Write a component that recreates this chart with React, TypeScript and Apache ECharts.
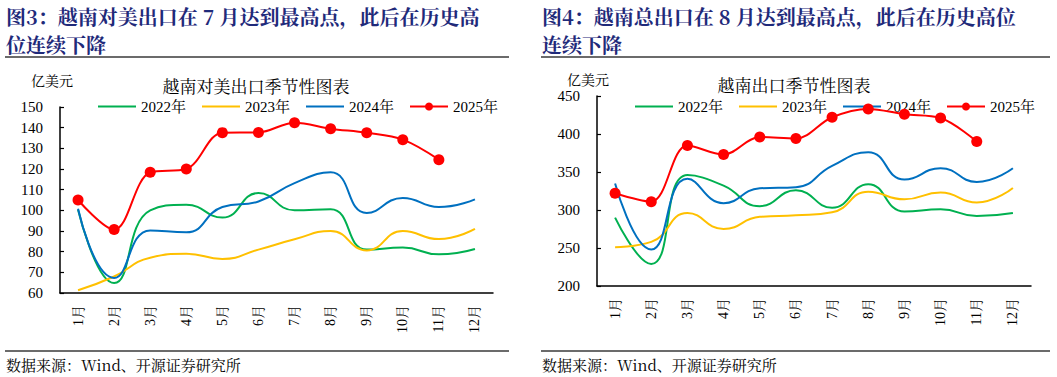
import React, { useEffect, useRef } from "react";
import * as echarts from "echarts";

// Month categories shared by both panels
const months = ["1月", "2月", "3月", "4月", "5月", "6月", "7月", "8月", "9月", "10月", "11月", "12月"];
const yearNames = ["2022年", "2023年", "2024年", "2025年"];

// Vietnam exports to the US (亿美元)
const us2022 = [100.3, 64.8, 100, 102.7, 96.5, 108.4, 100, 100.5, 81, 82, 78.7, 81.3];
const us2023 = [61.3, 68, 77.1, 79, 76.5, 81, 86, 90, 80.6, 90, 86.1, 91];
const us2024 = [100.8, 67.3, 90.3, 89.4, 101.6, 104.3, 113.2, 118.4, 98.7, 106, 101.6, 105.3];
const us2025 = [105, 90.7, 118.4, 120, 137.6, 137.7, 142.4, 139.5, 137.5, 134.2, 124.5];

// Vietnam total exports (亿美元)
const tot2022 = [290, 229, 346, 332, 305, 326, 303, 334, 298, 301, 292, 296];
const tot2023 = [251, 258, 296, 275, 291, 293, 297, 324, 314, 323, 310, 329];
const tot2024 = [335, 248, 341, 309, 328.5, 330, 358, 376, 340, 355, 337, 355];
const tot2025 = [322, 311, 385, 373, 396, 394, 422, 433, 426, 421, 390];

const leftTitle = ["图3：越南对美出口在 7 月达到最高点，此后在历史高", "位连续下降"];
const rightTitle = ["图4：越南总出口在 8 月达到最高点，此后在历史高位", "连续下降"];
const leftChartName = "越南对美出口季节性图表";
const rightChartName = "越南出口季节性图表";
const unitLabel = "亿美元";
const sourceNote = "数据来源：Wind、开源证券研究所";

const colors = ["#00B050", "#FFC000", "#0070C0", "#FF0000"];
const SERIF = "'Liberation Serif', 'Times New Roman', 'Noto Serif CJK SC', 'Noto Sans CJK SC', serif";
const TITLE_FONT = "'Noto Serif CJK SC', 'Noto Sans CJK SC', sans-serif";

function makeXAxis(gridIndex: number) {
  return {
    type: "category",
    gridIndex,
    data: months,
    boundaryGap: true,
    axisLine: { lineStyle: { color: "#000", width: 1.5 } },
    axisTick: { inside: true, length: 5, lineStyle: { color: "#000", width: 1.2 }, alignWithLabel: false },
    axisLabel: { rotate: 90, margin: 12, color: "#000", fontSize: 14, fontFamily: SERIF },
    splitLine: { show: false },
  };
}

function makeYAxis(gridIndex: number, min: number, max: number, interval: number) {
  return {
    type: "value",
    gridIndex,
    min,
    max,
    interval,
    axisLine: { show: true, lineStyle: { color: "#000", width: 1.5 } },
    axisTick: { show: true, inside: true, length: 4, lineStyle: { color: "#000", width: 1.2 } },
    axisLabel: { margin: 17, color: "#000", fontSize: 15, fontFamily: SERIF },
    splitLine: { show: false },
  };
}

function lineSeries(name: string, data: number[], color: string, idx: number, withDots: boolean) {
  return {
    type: "line",
    name,
    xAxisIndex: idx,
    yAxisIndex: idx,
    data,
    smooth: withDots ? 0.35 : 0.5,
    symbol: withDots ? "circle" : "none",
    symbolSize: 11,
    showSymbol: withDots,
    itemStyle: { color },
    lineStyle: { color, width: 2 },
    emphasis: { disabled: true },
    z: withDots ? 5 : 3,
  };
}

// Plain-line legend entries for the first three years, line-with-dot for 2025
function makeLegend(left: number) {
  return {
    data: yearNames.map((name, i) =>
      i < 3 ? { name, itemStyle: { opacity: 0 } } : { name }
    ),
    left,
    top: 94,
    itemWidth: 38,
    itemHeight: 10,
    itemGap: 15,
    textStyle: { color: "#000", fontSize: 15, fontFamily: SERIF },
    selectedMode: false,
  };
}

function textEl(text: string, x: number, y: number, fontSize: number, opts: any = {}) {
  return {
    type: "text",
    x,
    y,
    style: {
      text,
      fontSize,
      fontFamily: opts.fontFamily || TITLE_FONT,
      fontWeight: opts.fontWeight || "normal",
      fill: opts.fill || "#000",
      textAlign: opts.align || "left",
      textVerticalAlign: "middle",
    },
  };
}

function rule(x1: number, x2: number, y: number) {
  return {
    type: "line",
    shape: { x1, y1: y, x2, y2: y },
    style: { stroke: "#3a3a3a", lineWidth: 1.5 },
  };
}

export default function App() {
  const ref = useRef<HTMLDivElement>(null);

  useEffect(() => {
    document.body.style.margin = "0";
    if (!ref.current) return;
    const chart = echarts.init(ref.current, undefined, { renderer: "svg" });
    const navy = "#1F2A7A";
    chart.setOption({
      animation: false,
      backgroundColor: "#fff",
      grid: [
        { left: 60, top: 107, width: 433, height: 186, containLabel: false },
        { left: 597, top: 96, width: 434, height: 190, containLabel: false },
      ],
      xAxis: [makeXAxis(0), makeXAxis(1)],
      yAxis: [makeYAxis(0, 60, 150, 10), makeYAxis(1, 200, 450, 50)],
      legend: [makeLegend(92), makeLegend(629)],
      series: [
        lineSeries(yearNames[0], us2022, colors[0], 0, false),
        lineSeries(yearNames[1], us2023, colors[1], 0, false),
        lineSeries(yearNames[2], us2024, colors[2], 0, false),
        lineSeries(yearNames[3], us2025, colors[3], 0, true),
        lineSeries(yearNames[0], tot2022, colors[0], 1, false),
        lineSeries(yearNames[1], tot2023, colors[1], 1, false),
        lineSeries(yearNames[2], tot2024, colors[2], 1, false),
        lineSeries(yearNames[3], tot2025, colors[3], 1, true),
      ],
      graphic: [
        textEl(leftTitle[0], 6, 16, 20, { fill: navy, fontWeight: "bold" }),
        textEl(leftTitle[1], 6, 44, 20, { fill: navy, fontWeight: "bold" }),
        textEl(rightTitle[0], 542, 16, 20, { fill: navy, fontWeight: "bold" }),
        textEl(rightTitle[1], 542, 44, 20, { fill: navy, fontWeight: "bold" }),
        rule(5, 509, 57),
        rule(541, 1050, 57),
        textEl(unitLabel, 52, 80, 14, { align: "center" }),
        textEl(unitLabel, 588, 79, 14, { align: "center" }),
        textEl(leftChartName, 256, 85, 17, { align: "center" }),
        textEl(rightChartName, 794, 84, 17, { align: "center" }),
        rule(5, 509, 351),
        rule(541, 1050, 351),
        textEl(sourceNote, 6, 364, 15),
        textEl(sourceNote, 542, 364, 15),
      ],
    });
    return () => chart.dispose();
  }, []);

  return <div ref={ref} style={{ width: 1057, height: 377 }} />;
}
